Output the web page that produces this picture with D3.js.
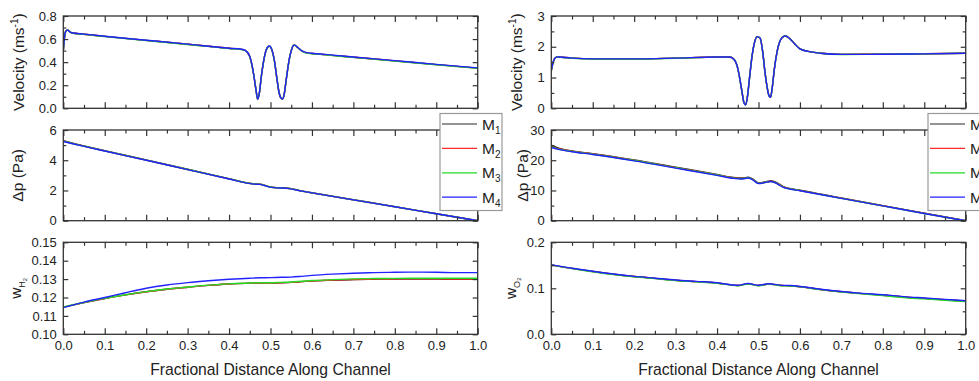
<!DOCTYPE html>
<html><head><meta charset="utf-8">
<script src="https://cdn.jsdelivr.net/npm/d3@7"></script>
<style>
body{margin:0;background:#fff}
svg{display:block;font-family:Arial,"Liberation Sans",sans-serif}
</style></head><body><svg id="c" width="979" height="381"></svg>
<script>
// ---------- data ----------
const seriesNames = ["1","2","3","4"];           // M subscripts
const seriesColors = ["#2a2a2a","#ff2a2a","#22dd22","#2222ff"];
const xTicks = [0,0.1,0.2,0.3,0.4,0.5,0.6,0.7,0.8,0.9,1.0];
const xMinorTicks = [0.05,0.15,0.25,0.35,0.45,0.55,0.65,0.75,0.85,0.95];

const xVel = [0,0.005,0.01,0.015,0.02, 0.05,0.1,0.2,0.3,0.4, 0.43,0.44,0.45,0.455,0.46, 0.465,0.469,0.473,0.478,0.485,
  0.49,0.497,0.504,0.51,0.515, 0.52,0.525,0.529,0.533,0.538, 0.545,0.55,0.557,0.565,0.575, 0.587,0.6,0.62,0.65,0.7, 0.8,0.9,1.0];

const velH2_M1 = [0.50,0.66,0.68,0.665,0.655, 0.642,0.623,0.589,0.555,0.520, 0.511,0.499,0.449,0.379,0.28, 0.16,0.08,0.13,0.28,0.44,
  0.51,0.539,0.499,0.40,0.27, 0.15,0.09,0.08,0.12,0.25, 0.42,0.499,0.549,0.529,0.499, 0.480,0.475,0.469,0.459,0.443, 0.411,0.379,0.348];
const velH2_M2 = [0.50,0.66,0.68,0.665,0.655, 0.642,0.623,0.589,0.555,0.520, 0.511,0.499,0.449,0.38,0.28, 0.16,0.08,0.13,0.28,0.44,
  0.51,0.539,0.499,0.40,0.27, 0.15,0.09,0.08,0.12,0.25, 0.42,0.499,0.549,0.529,0.499, 0.480,0.475,0.469,0.459,0.443, 0.411,0.379,0.348];
const velH2_M3 = [0.50,0.66,0.68,0.665,0.654, 0.641,0.622,0.588,0.553,0.518, 0.509,0.497,0.447,0.378,0.279, 0.16,0.08,0.13,0.279,0.438,
  0.508,0.538,0.498,0.399,0.27, 0.15,0.09,0.08,0.12,0.249, 0.418,0.498,0.548,0.528,0.497, 0.478,0.473,0.467,0.457,0.441, 0.409,0.377,0.346];
const velH2_M4 = [0.50,0.66,0.68,0.665,0.655, 0.643,0.624,0.590,0.556,0.521, 0.512,0.50,0.45,0.38,0.28, 0.16,0.08,0.13,0.28,0.44,
  0.51,0.54,0.50,0.40,0.27, 0.15,0.09,0.08,0.12,0.25, 0.42,0.50,0.55,0.53,0.50, 0.482,0.477,0.471,0.461,0.445, 0.413,0.381,0.35];

const velO2_M1 = [1.22,1.52,1.64,1.67,1.665, 1.632,1.607,1.607,1.632,1.667, 1.667,1.60,1.30,0.95,0.55, 0.18,0.11,0.35,0.95,1.75,
  2.12,2.33,2.28,1.85,1.25, 0.75,0.42,0.36,0.65,1.25, 1.85,2.12,2.30,2.35,2.27, 2.10,1.93,1.85,1.79,1.754, 1.759,1.772,1.792];
const velO2_M2 = [1.22,1.52,1.64,1.67,1.665, 1.631,1.606,1.606,1.631,1.666, 1.666,1.60,1.30,0.95,0.55, 0.18,0.11,0.35,0.95,1.75,
  2.12,2.33,2.28,1.85,1.25, 0.75,0.42,0.36,0.65,1.25, 1.85,2.12,2.30,2.35,2.27, 2.10,1.93,1.85,1.79,1.753, 1.758,1.771,1.791];
const velO2_M3 = [1.22,1.52,1.64,1.67,1.664, 1.629,1.604,1.604,1.629,1.664, 1.664,1.60,1.30,0.95,0.55, 0.18,0.11,0.35,0.95,1.75,
  2.12,2.33,2.28,1.85,1.25, 0.75,0.42,0.36,0.65,1.25, 1.85,2.12,2.30,2.35,2.27, 2.10,1.93,1.85,1.79,1.751, 1.756,1.769,1.789];
const velO2_M4 = [1.22,1.52,1.64,1.67,1.665, 1.63,1.605,1.605,1.63,1.665, 1.665,1.60,1.30,0.95,0.55, 0.18,0.11,0.35,0.95,1.75,
  2.12,2.33,2.28,1.85,1.25, 0.75,0.42,0.36,0.65,1.25, 1.85,2.12,2.30,2.35,2.27, 2.10,1.93,1.85,1.79,1.752, 1.757,1.77,1.79];

const xDp = [0,0.02,0.05,0.1,0.2,0.3,0.4,0.44,0.46,0.475,0.485,0.5,0.515,0.53,0.545,0.56,0.575,0.6,0.7,0.8,0.9,1.0];
const dpH2_M1 = [5.30,5.15,4.95,4.63,4.02,3.40,2.78,2.52,2.44,2.42,2.35,2.24,2.19,2.18,2.14,2.06,1.97,1.85,1.39,0.93,0.46,0.00];
const dpH2_M2 = [5.27,5.13,4.93,4.62,4.01,3.39,2.77,2.51,2.43,2.41,2.34,2.23,2.18,2.17,2.13,2.05,1.96,1.84,1.38,0.92,0.46,0.00];
const dpH2_M3 = [5.26,5.12,4.93,4.62,4.01,3.39,2.77,2.51,2.43,2.41,2.34,2.23,2.18,2.17,2.13,2.05,1.96,1.84,1.38,0.92,0.46,0.00];
const dpH2_M4 = [5.24,5.11,4.92,4.61,4.00,3.38,2.76,2.50,2.42,2.40,2.33,2.22,2.17,2.16,2.12,2.04,1.96,1.84,1.38,0.92,0.46,0.00];

const dpO2_M1 = [25.0,23.9,23.1,22.2,20.1,17.7,15.3,14.3,14.1,14.4,13.9,12.6,12.8,13.2,12.5,11.3,10.7,10.1,7.5,5.0,2.5,0];
const dpO2_M2 = [24.6,23.7,22.95,22.05,19.95,17.55,15.15,14.15,13.95,14.25,13.75,12.45,12.65,13.05,12.35,11.2,10.6,10.0,7.45,4.95,2.45,0];
const dpO2_M3 = [24.5,23.6,22.9,22.0,19.9,17.5,15.1,14.1,13.9,14.2,13.7,12.4,12.6,13.0,12.3,11.1,10.55,9.95,7.4,4.9,2.4,0];
const dpO2_M4 = [24.2,23.5,22.8,21.9,19.8,17.4,15.0,14.0,13.8,14.1,13.6,12.3,12.6,12.95,12.2,11.0,10.5,9.9,7.4,4.9,2.4,0];

const xW = [0,0.05,0.1,0.15,0.2,0.25,0.3,0.35,0.4,0.45,0.475,0.5,0.525,0.55,0.575,0.6,0.65,0.7,0.75,0.8,0.85,0.9,0.95,1.0];
const wH2_M1 = [0.1148,0.1172,0.1194,0.1214,0.1231,0.1245,0.1256,0.1266,0.1273,0.1278,0.1279,0.1279,0.1280,0.1282,0.1286,0.1290,0.1294,0.1297,0.1299,0.1300,0.1300,0.1300,0.1299,0.1299];
const wH2_M2 = [0.1148,0.1172,0.1194,0.1214,0.1231,0.1245,0.1256,0.1266,0.1273,0.1278,0.1279,0.1279,0.1280,0.1282,0.1286,0.1290,0.1295,0.1298,0.1300,0.1301,0.1301,0.1301,0.1300,0.1300];
const wH2_M3 = [0.1148,0.1173,0.1195,0.1215,0.1232,0.1246,0.1257,0.1267,0.1274,0.1279,0.1280,0.1280,0.1282,0.1284,0.1288,0.1292,0.1297,0.1301,0.1303,0.1304,0.1305,0.1305,0.1305,0.1305];
const wH2_M4 = [0.1145,0.1175,0.1200,0.1226,0.1250,0.1268,0.1281,0.1291,0.1299,0.1305,0.1307,0.1308,0.1310,0.1311,0.1315,0.1320,0.1327,0.1332,0.1335,0.1337,0.1338,0.1337,0.1335,0.1335];

const wO2_M1 = [0.151,0.1432,0.1365,0.1305,0.1255,0.1215,0.1175,0.1145,0.1115,0.106,0.110,0.106,0.1095,0.1065,0.1055,0.1035,0.0975,0.0925,0.0885,0.085,0.081,0.078,0.075,0.072];
const wO2_M2 = [0.151,0.1432,0.1365,0.1305,0.1255,0.1215,0.1175,0.1145,0.1115,0.106,0.110,0.106,0.1095,0.1065,0.1055,0.1035,0.0975,0.0925,0.0885,0.085,0.081,0.078,0.075,0.072];
const wO2_M3 = [0.151,0.143,0.136,0.130,0.125,0.121,0.117,0.114,0.111,0.1055,0.1095,0.1055,0.109,0.106,0.105,0.103,0.097,0.092,0.088,0.084,0.080,0.077,0.074,0.071];
const wO2_M4 = [0.151,0.1435,0.137,0.131,0.126,0.122,0.118,0.115,0.112,0.1065,0.1105,0.1065,0.110,0.107,0.106,0.104,0.098,0.093,0.089,0.086,0.082,0.079,0.076,0.073];

// ---------- layout ----------
const svg = d3.select("#c");
svg.append("rect").attr("width",979).attr("height",381).attr("fill","#fff");
const colX = [[63.3,477.7],[551.3,965.7]];
const rowY = [[16,108.3],[130,220.7],[242.3,334.3]];
const axisColor = "#333";
const textColor = "#222";

const panels = [
  {col:0,row:0,xs:xVel,ys:[velH2_M1,velH2_M2,velH2_M3,velH2_M4],dom:[0,0.8],maj:[0,0.2,0.4,0.6,0.8],min:[0.1,0.3,0.5,0.7],fmt:d3.format(".1f"),label:"vel",lx:24},
  {col:0,row:1,xs:xDp,ys:[dpH2_M1,dpH2_M2,dpH2_M3,dpH2_M4],dom:[0,6],maj:[0,2,4,6],min:[1,3,5],fmt:d3.format("d"),label:"dp",lx:23},
  {col:0,row:2,xs:xW,ys:[wH2_M1,wH2_M2,wH2_M3,wH2_M4],dom:[0.10,0.15],maj:[0.10,0.11,0.12,0.13,0.14,0.15],min:[],fmt:d3.format(".2f"),label:"H",lx:21},
  {col:1,row:0,xs:xVel,ys:[velO2_M1,velO2_M2,velO2_M3,velO2_M4],dom:[0,3],maj:[0,1,2,3],min:[0.5,1.5,2.5],fmt:d3.format("d"),label:"vel",lx:522},
  {col:1,row:1,xs:xDp,ys:[dpO2_M1,dpO2_M2,dpO2_M3,dpO2_M4],dom:[0,30],maj:[0,10,20,30],min:[5,15,25],fmt:d3.format("d"),label:"dp",lx:528},
  {col:1,row:2,xs:xW,ys:[wO2_M1,wO2_M2,wO2_M3,wO2_M4],dom:[0,0.2],maj:[0,0.1,0.2],min:[0.05,0.15],fmt:d3.format(".1f"),label:"O",lx:515.5}
];

function styleAxis(g){
  g.select(".domain").remove();
  g.selectAll(".tick line").attr("stroke",axisColor).attr("stroke-width",1.2);
  g.selectAll(".tick text").attr("fill",textColor).style("font-size","13px").style("font-family","Arial, 'Liberation Sans', sans-serif");
}

panels.forEach((p,i)=>{
  const [x0,x1] = colX[p.col], [y0,y1] = rowY[p.row];
  const x = d3.scaleLinear().domain([0,1]).range([x0,x1]);
  const y = d3.scaleLinear().domain(p.dom).range([y1,y0]);
  const g = svg.append("g");
  const clipId = "clip"+i;
  svg.append("clipPath").attr("id",clipId).append("rect").attr("x",x0).attr("y",y0-1).attr("width",x1-x0).attr("height",y1-y0+2);

  const line = d3.line().curve(d3.curveMonotoneX);
  p.ys.forEach((vals,k)=>{
    g.append("path")
      .attr("d", line(p.xs.map((xv,j)=>[x(xv), y(vals[j])])))
      .attr("fill","none").attr("stroke",seriesColors[k]).attr("stroke-width",1.4)
      .attr("clip-path",`url(#${clipId})`);
  });

  const showX = p.row===2;
  // x axes
  g.append("g").attr("transform",`translate(0,${y1})`)
    .call(d3.axisBottom(x).tickValues(xTicks).tickSize(-6).tickSizeOuter(0).tickPadding(6.5)
      .tickFormat(showX? d3.format(".1f") : ()=>"")).call(styleAxis);
  g.append("g").attr("transform",`translate(0,${y1})`)
    .call(d3.axisBottom(x).tickValues(xMinorTicks).tickSize(-3.5).tickSizeOuter(0).tickFormat(()=>"")).call(styleAxis);
  g.append("g").attr("transform",`translate(0,${y0})`)
    .call(d3.axisTop(x).tickValues(xTicks).tickSize(-6).tickSizeOuter(0).tickFormat(()=>"")).call(styleAxis);
  g.append("g").attr("transform",`translate(0,${y0})`)
    .call(d3.axisTop(x).tickValues(xMinorTicks).tickSize(-3.5).tickSizeOuter(0).tickFormat(()=>"")).call(styleAxis);
  // y axes
  g.append("g").attr("transform",`translate(${x0},0)`)
    .call(d3.axisLeft(y).tickValues(p.maj).tickSize(-5).tickSizeOuter(0).tickPadding(6.5).tickFormat(p.fmt)).call(styleAxis);
  g.append("g").attr("transform",`translate(${x0},0)`)
    .call(d3.axisLeft(y).tickValues(p.min).tickSize(-3).tickSizeOuter(0).tickFormat(()=>"")).call(styleAxis);
  g.append("g").attr("transform",`translate(${x1},0)`)
    .call(d3.axisRight(y).tickValues(p.maj).tickSize(-5).tickSizeOuter(0).tickFormat(()=>"")).call(styleAxis);
  g.append("g").attr("transform",`translate(${x1},0)`)
    .call(d3.axisRight(y).tickValues(p.min).tickSize(-3).tickSizeOuter(0).tickFormat(()=>"")).call(styleAxis);
  // frame
  g.append("rect").attr("x",x0).attr("y",y0).attr("width",x1-x0).attr("height",y1-y0)
    .attr("fill","none").attr("stroke",axisColor).attr("stroke-width",1.3);

  // y label
  const cy = (y0+y1)/2;
  const t = svg.append("text").attr("transform",`translate(${p.lx},${cy}) rotate(-90)`)
    .attr("text-anchor","middle").attr("fill",textColor).style("font-size","15.5px");
  if(p.label==="vel"){
    t.append("tspan").text("Velocity (ms");
    t.append("tspan").text("-1").style("font-size","10px").attr("dy",-6);
    t.append("tspan").text(")").attr("dy",6);
  } else if(p.label==="dp"){
    t.text("Δp (Pa)");
  } else {
    t.append("tspan").text("w");
    t.append("tspan").text(p.label).style("font-size","9px").attr("dy",4);
    t.append("tspan").text("2").style("font-size","6px").attr("dy",1.5);
  }

  // x title
  if(showX){
    svg.append("text").attr("x",(x0+x1)/2).attr("y",374.5).attr("text-anchor","middle")
      .attr("fill",textColor).style("font-size","15.7px").text("Fractional Distance Along Channel");
  }

  // legend on middle panels
  if(p.row===1){
    const lx = x1-37.7, ly = 113.5;
    const lg = svg.append("g");
    lg.append("rect").attr("x",lx).attr("y",ly).attr("width",62).attr("height",97)
      .attr("fill","#fff").attr("stroke","#999").attr("stroke-width",1.2);
    seriesNames.forEach((nm,k)=>{
      const yy = ly+10.5+k*24.4;
      lg.append("line").attr("x1",lx+2).attr("x2",lx+37).attr("y1",yy).attr("y2",yy)
        .attr("stroke",seriesColors[k]).attr("stroke-width",1.2);
      const tt = lg.append("text").attr("x",lx+42).attr("y",yy+5.5).attr("fill",textColor).style("font-size","15.5px");
      tt.append("tspan").text("M");
      tt.append("tspan").text(nm).style("font-size","10px").attr("dy",4);
    });
  }
});
</script></body></html>
